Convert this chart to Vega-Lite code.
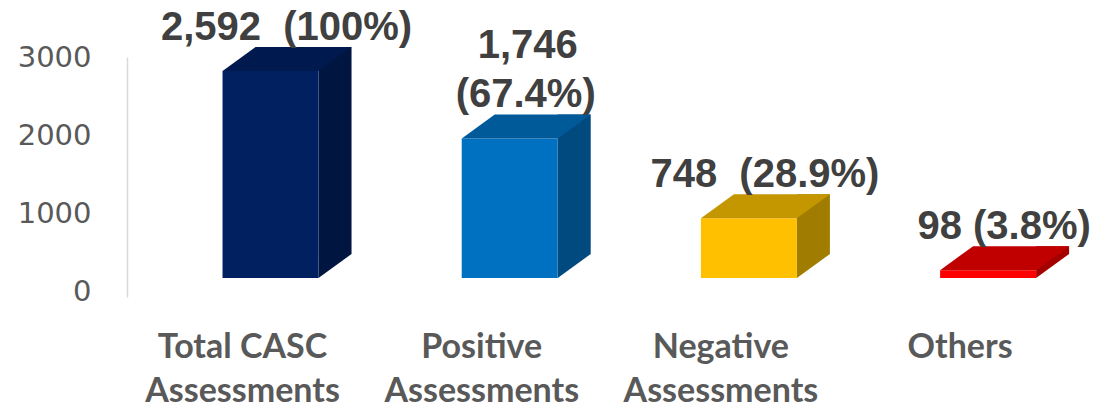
{
  "$schema": "https://vega.github.io/schema/vega-lite/v6.json",
  "width": 968,
  "height": 240,
  "autosize": {"type": "none"},
  "padding": {"left": 127, "top": 57, "right": 0, "bottom": 108},
  "background": "white",
  "config": {"view": {"stroke": null}},
  "data": {
    "values": [
      {"category": "Total CASC Assessments", "value": 2592, "label": "2,592\u00a0 (100%)", "labelTop": ""},
      {"category": "Positive Assessments", "value": 1746, "label": "(67.4%)", "labelTop": "1,746"},
      {"category": "Negative Assessments", "value": 748, "label": "748\u00a0 (28.9%)", "labelTop": ""},
      {"category": "Others", "value": 98, "label": "98 (3.8%)", "labelTop": ""}
    ]
  },
  "encoding": {
    "x": {
      "field": "category",
      "type": "nominal",
      "sort": null,
      "scale": {"paddingInner": 0.5, "paddingOuter": 0.2735, "align": 0.64},
      "axis": {
        "title": null,
        "domain": false,
        "ticks": false,
        "labelAngle": 0,
        "labelFont": "Lato",
        "labelFontWeight": "bold",
        "labelFontSize": 34,
        "labelColor": "#595959",
        "labelPadding": 33,
        "labelLineHeight": 44,
        "labelOffset": -28,
        "labelLimit": 400,
        "labelOverlap": false,
        "labelExpr": "datum.label == 'Total CASC Assessments' ? ['Total CASC', 'Assessments'] : split(datum.label, ' ')"
      }
    }
  },
  "layer": [
    {
      "mark": {"type": "point", "opacity": 0},
      "encoding": {
        "y": {
          "field": "value",
          "type": "quantitative",
          "scale": {"domain": [-64, 3000], "nice": false, "zero": false},
          "axis": {
            "orient": "left",
            "values": [0, 1000, 2000, 3000],
            "format": "d",
            "title": null,
            "grid": false,
            "ticks": false,
            "labelFlush": false,
            "domainColor": "#d9d9d9",
            "domainWidth": 1.5,
            "labelFont": "DejaVu Sans",
            "labelFontSize": 29,
            "labelColor": "#595959",
            "labelPadding": 36
          }
        }
      }
    },
    {
      "layer": [
        {
          "mark": {"type": "bar", "width": 33, "xOffset": 64.5, "yOffset": -24, "y2Offset": -24},
          "encoding": {
            "y": {"field": "value", "type": "quantitative", "scale": {"domain": [-238, 2766], "nice": false, "zero": false}, "axis": null},
            "y2": {"datum": 0},
            "color": {"field": "category", "type": "nominal", "legend": null,
              "scale": {"domain": ["Total CASC Assessments", "Positive Assessments", "Negative Assessments", "Others"], "range": ["#001540", "#004A80", "#A07D00", "#A50000"]}}
          }
        },
        {
          "mark": {"type": "point", "shape": "M48,-24L48,0L81,-24Z", "size": 4, "filled": true, "opacity": 1, "strokeWidth": 0},
          "encoding": {
            "y": {"datum": 0, "type": "quantitative", "scale": {"domain": [-238, 2766], "nice": false, "zero": false}, "axis": null},
            "color": {"field": "category", "type": "nominal", "legend": null,
              "scale": {"domain": ["Total CASC Assessments", "Positive Assessments", "Negative Assessments", "Others"], "range": ["#001540", "#004A80", "#A07D00", "#A50000"]}}
          }
        },
        {
          "mark": {"type": "bar", "width": 96},
          "encoding": {
            "y": {"field": "value", "type": "quantitative", "scale": {"domain": [-238, 2766], "nice": false, "zero": false}, "axis": null},
            "y2": {"datum": 0},
            "color": {"field": "category", "type": "nominal", "legend": null,
              "scale": {"domain": ["Total CASC Assessments", "Positive Assessments", "Negative Assessments", "Others"], "range": ["#002060", "#0070C0", "#FFC000", "#FF0000"]}}
          }
        },
        {
          "mark": {"type": "point", "shape": "M-48,0L48,0L81,-24L-15,-24Z", "size": 4, "filled": true, "opacity": 1, "strokeWidth": 0},
          "encoding": {
            "y": {"field": "value", "type": "quantitative", "scale": {"domain": [-238, 2766], "nice": false, "zero": false}, "axis": null},
            "color": {"field": "category", "type": "nominal", "legend": null,
              "scale": {"domain": ["Total CASC Assessments", "Positive Assessments", "Negative Assessments", "Others"], "range": ["#001A4F", "#005A9A", "#C49600", "#C00000"]}}
          }
        },
        {
          "mark": {"type": "text", "font": "Liberation Sans", "fontWeight": "bold", "fontSize": 40, "color": "#404040", "align": "center", "baseline": "alphabetic", "dy": -31, "xOffset": 16},
          "encoding": {
            "y": {"field": "value", "type": "quantitative", "scale": {"domain": [-238, 2766], "nice": false, "zero": false}, "axis": null},
            "text": {"field": "label", "type": "nominal"}
          }
        },
        {
          "mark": {"type": "text", "font": "Liberation Sans", "fontWeight": "bold", "fontSize": 40, "color": "#404040", "align": "center", "baseline": "alphabetic", "dy": -80, "xOffset": 18},
          "encoding": {
            "y": {"field": "value", "type": "quantitative", "scale": {"domain": [-238, 2766], "nice": false, "zero": false}, "axis": null},
            "text": {"field": "labelTop", "type": "nominal"}
          }
        }
      ],
      "resolve": {"scale": {"color": "independent"}}
    }
  ],
  "resolve": {"scale": {"y": "independent", "color": "independent"}}
}
